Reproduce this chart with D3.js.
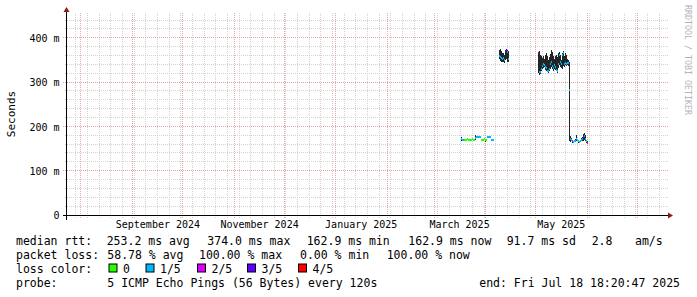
<!DOCTYPE html>
<head>
  <meta charset="utf-8">
  <style>
    body { margin: 0; background: #fff; }
    svg { display: block; }
    text { font-family: 'DejaVu Sans Mono', monospace; fill: #000; }
  </style>
</head>
<body>
  <script src="https://cdn.jsdelivr.net/npm/d3@7"></script>
  <script>
    const width = 697;
    const height = 297;
    const plot = {left: 67, right: 667, top: 13, bottom: 215};

    // time range of the graph (last 360 days), one column per 14.4 h
    const rangeStart = "2024-07-23T18:20:47Z";
    const rangeEnd = "2025-07-18T18:20:47Z";
    const stepHours = 14.4;

    // y axis (seconds)
    const yMax = 0.456;
    const yTicks = [0, 0.1, 0.2, 0.3, 0.4];

    // month labels, centred in the middle of their month
    const monthLabels = ["September 2024", "November 2024", "January 2025", "March 2025", "May 2025"];
    const monthLabelDates = ["2024-09-16", "2024-11-16", "2025-01-16", "2025-03-16", "2025-05-16"];

    const lossLabels = ["0", "1/5", "2/5", "3/5", "4/5"];
    const lossColors = ["#26ff00", "#00b8ff", "#dd00ff", "#5e00ff", "#ff0000"];

    // data segments (median / smoke low / smoke high in ms, loss index)
    const segStarts = ["2025-03-17T04:00:00Z", "2025-04-08T23:10:00Z", "2025-05-02T08:45:00Z"];

    const medA  = [171,170,170,170,169,170,171,170,169,170,170,171,170,169, 173,176,176,175,176,175, 170,170,169,171,170,170, 176,175,176,175, 170,169,170];
    const loA   = [166,168,168,168,168,168,169,168,168,168,168,169,168,168, 170,174,174,173,174,173, 168,168,167,169,164,168, 174,173,174,173, 168,168,168];
    const hiA   = [175,172,172,172,171,172,173,172,171,172,172,173,172,171, 180,178,178,177,178,177, 172,172,171,173,172,172, 178,177,178,177, 172,171,172];
    const lossA = [1,1,1, 0,0,0,0,0,0,0,0,0,0,0, 1,1,1,1,1,1, 0,0,0,0,0,0, 1,1,1,1, 1,1,1];

    const medB  = [358,357,355,352,355,350,370,372,368,352];
    const loB   = [352,348,345,346,345,344,350,352,345,345];
    const hiB   = [372,374,370,366,365,362,372,373,372,370];
    const lossB = [1,1,1,1,1,1,3,3,1,1];

    const medC  = [366,322,323,330,336,340,338,335,332,326,324,330,340,345,336,332,338,333,328,325,342,362,345,340,362,366,340,344,342,344,343,
                   282,
                   172,170,166,165,167,168,172,169,166,165,167,170,172,176,178,172,166,162.9];
    const loC   = [321,316,318,325,330,332,335,328,325,322,320,325,330,335,330,326,330,328,324,320,332,338,335,332,330,336,334,338,336,338,336,
                   168,
                   165,167,163,162,164,165,166,166,163,163,164,167,168,168,170,166,163,162.9];
    const hiC   = [368,370,362,358,355,360,352,362,365,358,350,356,363,372,368,360,352,358,362,356,365,368,362,350,366,370,360,366,362,352,350,
                   345,
                   178,173,169,168,170,171,180,172,169,168,170,173,175,183,184,180,169,168];
    const lossC = [3,1,1,1,1,1,1,1,1,1,1,1,1,1,1,1,1,1,1,1,1,1,1,1,1,1,1,1,1,1,1,
                   1,
                   1,1,2,1,1,1,1,1,0,1,1,1,1,3,1,1,0,2];

    // legend texts
    const rttStats  = ["253.2 ms avg", "374.0 ms max", "162.9 ms min", "162.9 ms now", "91.7 ms sd", "2.8", "am/s"];
    const lossStats = ["58.78 % avg", "100.00 % max", "0.00 % min", "100.00 % now"];
    const probeText = "5 ICMP Echo Pings (56 Bytes) every 120s";
    const endText = "end: Fri Jul 18 18:20:47 2025";

    const stepMs = stepHours * 3600 * 1000;
    const segs = [
      {start: segStarts[0], med: medA, lo: loA, hi: hiA, loss: lossA},
      {start: segStarts[1], med: medB, lo: loB, hi: hiB, loss: lossB},
      {start: segStarts[2], med: medC, lo: loC, hi: hiC, loss: lossC}
    ];
    const cols = segs.flatMap(s => s.med.map((m, i) => ({
      t: new Date(+new Date(s.start) + i * stepMs),
      med: m, lo: s.lo[i], hi: s.hi[i], loss: s.loss[i]
    })));

    const svg = d3.select("body").append("svg")
      .attr("width", width)
      .attr("height", height);
    svg.append("rect").attr("width", width).attr("height", height).attr("fill", "#fff");

    const x = d3.scaleUtc()
      .domain([new Date(rangeStart), new Date(rangeEnd)])
      .range([plot.left, plot.right]);
    const y = d3.scaleLinear()
      .domain([0, yMax])
      .range([plot.bottom, plot.top]);

    const px = v => Math.floor(v) + 0.5;

    //----------------------------GRID------------------------------//
    const grid = svg.append("g").attr("shape-rendering", "crispEdges")
      .attr("stroke-width", 1).attr("stroke-dasharray", "1,1").attr("fill", "none");

    const minorY = d3.range(20, yMax * 1000, 20).filter(v => v % 100 !== 0).map(v => v / 1000);
    grid.selectAll(".hminor").data(minorY).enter().append("line")
      .attr("x1", plot.left - 2).attr("x2", plot.right + 1)
      .attr("y1", d => px(y(d))).attr("y2", d => px(y(d)))
      .attr("stroke", "#d2d2d2");

    const t0 = new Date(rangeStart), t1 = new Date(rangeEnd);
    const months = d3.utcMonth.range(t0, t1);
    const weeks = d3.utcMonday.range(t0, t1)
      .filter(w => !months.some(m => Math.abs(x(m) - x(w)) < 1));
    grid.selectAll(".vminor").data(weeks).enter().append("line")
      .attr("x1", d => px(x(d))).attr("x2", d => px(x(d)))
      .attr("y1", plot.top).attr("y2", plot.bottom + 4)
      .attr("stroke", "#d2d2d2");

    grid.selectAll(".hmajor").data(yTicks.filter(v => v > 0)).enter().append("line")
      .attr("x1", plot.left - 4).attr("x2", plot.right + 1)
      .attr("y1", d => px(y(d))).attr("y2", d => px(y(d)))
      .attr("stroke", "#eda3a3");
    grid.selectAll(".vmajor").data(months).enter().append("line")
      .attr("x1", d => px(x(d))).attr("x2", d => px(x(d)))
      .attr("y1", plot.top).attr("y2", plot.bottom + 4)
      .attr("stroke", "#eda3a3");

    //----------------------------DATA------------------------------//
    const dataG = svg.append("g").attr("shape-rendering", "crispEdges");
    const colX = d => Math.round(x(d.t));
    const colW = d => Math.max(1, Math.round(x(new Date(+d.t + stepMs))) - Math.round(x(d.t)));

    dataG.selectAll(".smoke").data(cols.filter(d => y(d.lo / 1000) - y(d.hi / 1000) > 2)).enter().append("rect")
      .attr("x", colX).attr("width", colW)
      .attr("y", d => Math.round(y(d.hi / 1000)))
      .attr("height", d => Math.max(1, Math.round(y(d.lo / 1000)) - Math.round(y(d.hi / 1000))))
      .attr("fill", "#242424");

    dataG.selectAll(".median").data(cols).enter().append("rect")
      .attr("x", colX).attr("width", colW)
      .attr("y", d => Math.round(y(d.med / 1000)) - 1)
      .attr("height", 2)
      .attr("fill", d => lossColors[d.loss]);

    //----------------------------AXES------------------------------//
    const yAxis = d3.axisLeft(y)
      .tickValues(yTicks)
      .tickSize(0)
      .tickPadding(7.5)
      .tickFormat(v => v === 0 ? "0" : d3.format(".0f")(v * 1000) + " m");
    const yg = svg.append("g").attr("transform", "translate(" + plot.left + ",0)").call(yAxis);
    yg.select(".domain").remove();
    yg.selectAll("text").attr("font-family", "'DejaVu Sans Mono', monospace").attr("font-size", 10)
      .attr("dy", "0.36em").attr("fill", "#000");

    const xAxis = d3.axisBottom(x)
      .tickValues(monthLabelDates.map(d => new Date(d + "T00:00:00Z")))
      .tickSize(0)
      .tickFormat((d, i) => monthLabels[i]);
    const xg = svg.append("g").attr("transform", "translate(0," + plot.bottom + ")").call(xAxis);
    xg.select(".domain").remove();
    xg.selectAll("text").attr("font-family", "'DejaVu Sans Mono', monospace").attr("font-size", 10)
      .attr("y", 12.5).attr("dy", 0).attr("fill", "#000");

    // axis lines + arrows
    svg.append("line").attr("x1", plot.left - 4).attr("x2", plot.right + 2)
      .attr("y1", plot.bottom + 0.5).attr("y2", plot.bottom + 0.5)
      .attr("stroke", "#000").attr("shape-rendering", "crispEdges");
    svg.append("line").attr("x1", plot.left - 0.5).attr("x2", plot.left - 0.5)
      .attr("y1", plot.bottom + 5).attr("y2", plot.top - 2)
      .attr("stroke", "#000").attr("shape-rendering", "crispEdges");
    svg.append("path")
      .attr("d", `M${plot.right + 1},${plot.bottom - 2.5} L${plot.right + 6},${plot.bottom + 0.5} L${plot.right + 1},${plot.bottom + 3.5} Z`)
      .attr("fill", "#8b1a1a");
    svg.append("path")
      .attr("d", `M${plot.left - 3.5},${plot.top - 1} L${plot.left - 0.5},${plot.top - 6} L${plot.left + 2.5},${plot.top - 1} Z`)
      .attr("fill", "#8b1a1a");

    // y title
    svg.append("text")
      .attr("transform", "translate(15," + ((plot.top + plot.bottom) / 2) + ") rotate(-90)")
      .attr("text-anchor", "middle")
      .attr("font-size", 11)
      .text("Seconds");

    // watermark
    svg.append("text")
      .attr("transform", "translate(685,5) rotate(90)")
      .attr("font-size", 8.3)
      .style("fill", "#b4b4b4")
      .text("RRDTOOL / TOBI OETIKER");

    //---------------------------LEGEND-----------------------------//
    const legend = svg.append("g").attr("font-size", 11.5).style("white-space", "pre");
    const rowY = [245, 258.5, 272.5, 286.5];
    const rttX = [106.7, 207.3, 306.7, 408.3, 506.7, 591.7, 635];
    const lossX = [107.3, 199, 300, 386.7];

    legend.append("text").attr("x", 16).attr("y", rowY[0]).text("median rtt:");
    legend.selectAll(".rtt").data(rttStats).enter().append("text")
      .attr("x", (d, i) => rttX[i]).attr("y", rowY[0]).text(d => d);

    legend.append("text").attr("x", 16).attr("y", rowY[1]).text("packet loss:");
    legend.selectAll(".loss").data(lossStats).enter().append("text")
      .attr("x", (d, i) => lossX[i]).attr("y", rowY[1]).text(d => d);

    legend.append("text").attr("x", 16).attr("y", rowY[2]).text("loss color:");
    const boxX = [108.5, 145.5, 197, 247, 298];
    legend.selectAll(".lbox").data(lossColors).enter().append("rect")
      .attr("x", (d, i) => boxX[i] + 0.5).attr("y", rowY[2] - 8.5)
      .attr("width", 8).attr("height", 8)
      .attr("fill", d => d).attr("stroke", "#000").attr("stroke-width", 1);
    legend.selectAll(".llab").data(lossLabels).enter().append("text")
      .attr("x", (d, i) => boxX[i] + 14.5).attr("y", rowY[2]).text(d => d);

    legend.append("text").attr("x", 16).attr("y", rowY[3]).text("probe:");
    legend.append("text").attr("x", 107.3).attr("y", rowY[3]).text(probeText);
    legend.append("text").attr("x", 680).attr("y", rowY[3]).attr("text-anchor", "end").text(endText);
  </script>
</body>
